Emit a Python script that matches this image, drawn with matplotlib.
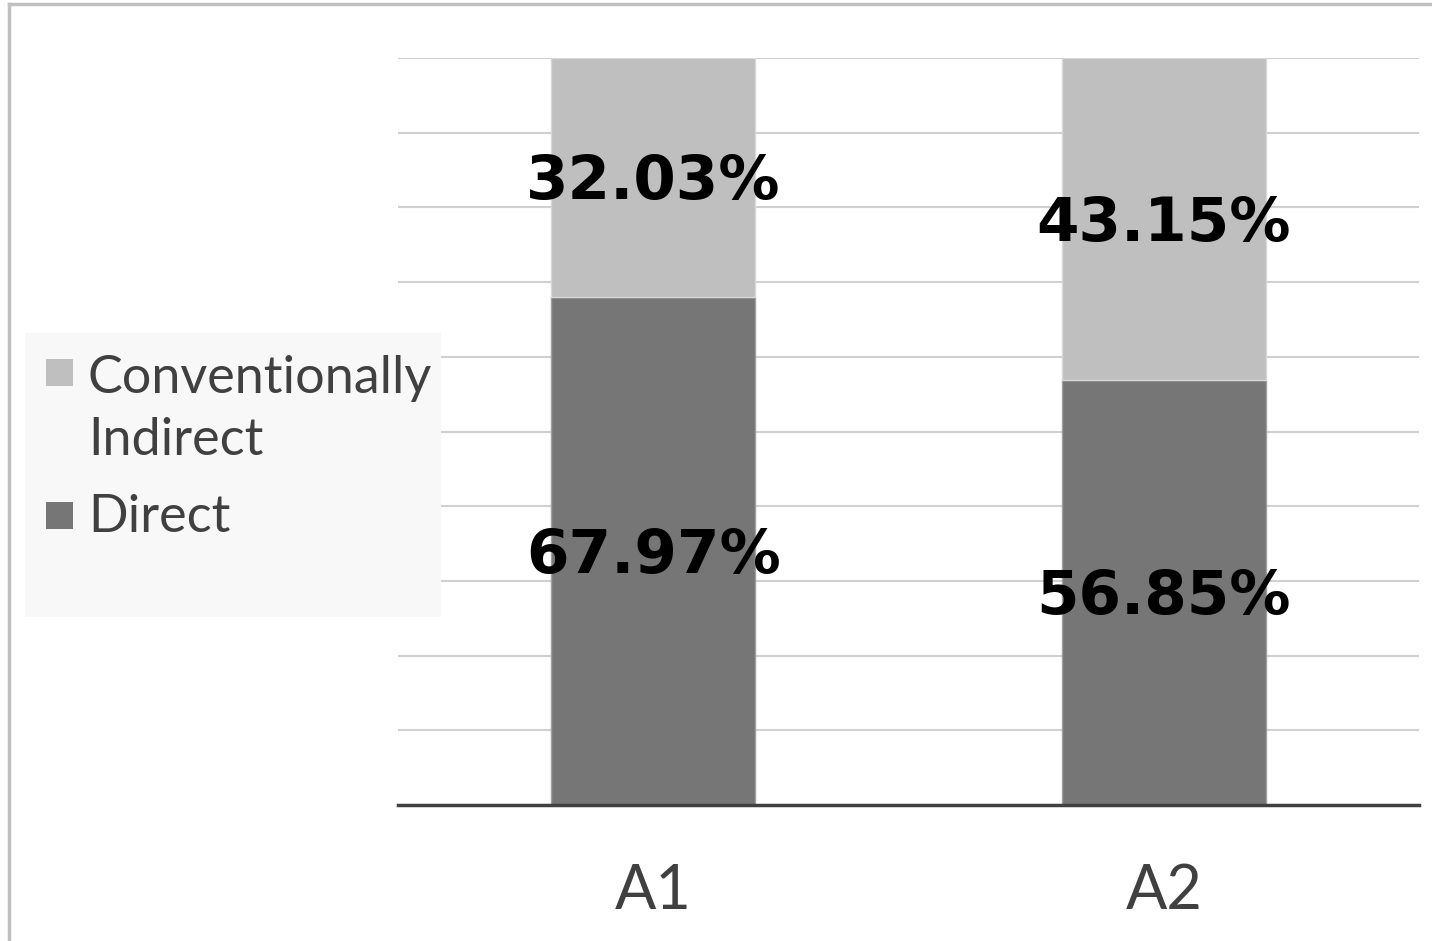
import matplotlib
matplotlib.use("Agg")
import matplotlib.pyplot as plt
from matplotlib.patches import Rectangle
from matplotlib.lines import Line2D
from matplotlib.transforms import offset_copy

categories = ["A1", "A2"]
direct = [67.97, 56.85]
indirect = [32.03, 43.15]
series_names = ["Conventionally", "Indirect", "Direct"]

DARK = "#767676"
LIGHT = "#bfbfbf"
TEXT = "#404040"

plt.rcParams["font.family"] = ["Lato", "DejaVu Sans"]

fig = plt.figure(figsize=(14.32, 9.41), dpi=100)
ax = fig.add_axes([398 / 1432, 1 - 805 / 941, 1021 / 1432, 747 / 941])

x = list(range(len(categories)))
ax.set_xlim(-0.5, len(categories) - 0.5)
ax.set_ylim(0, 100)

for y in range(10, 101, 10):
    ax.axhline(y, color="#d0d0d0", lw=1.5, zorder=0)

ax.bar(x, direct, width=0.4, color=DARK, edgecolor="#a0a0a0", lw=1, zorder=2)
ax.bar(x, indirect, width=0.4, bottom=direct, color=LIGHT,
       edgecolor="#d8d8d8", lw=1, zorder=2)

lbl_tr = offset_copy(ax.transData, fig=fig, x=0, y=-5, units="dots")
for xi, d, ind in zip(x, direct, indirect):
    ax.text(xi, d / 2, f"{d:.2f}%", ha="center", va="center", transform=lbl_tr,
            fontsize=44, fontweight="bold", color="black", zorder=3,
            family="DejaVu Sans")
    ax.text(xi, d + ind / 2, f"{ind:.2f}%", ha="center", va="center", transform=lbl_tr,
            fontsize=44, fontweight="bold", color="black", zorder=3,
            family="DejaVu Sans")

ax.axhline(0, color=TEXT, lw=2.5, zorder=4, clip_on=False)
for s in ax.spines.values():
    s.set_visible(False)
ax.set_yticks([])
ax.set_xticks(x)
ax.set_xticklabels(categories, fontsize=44, color=TEXT)
ax.tick_params(axis="x", length=0, pad=42)

# legend panel
W, H = 1432, 941


def fx(px):
    return px / W


def fy(py):
    return 1 - py / H


fig.patches.append(Rectangle((fx(25), fy(617)), fx(441) - fx(25), fy(333) - fy(617),
                             transform=fig.transFigure, facecolor="#f8f8f8",
                             edgecolor="none", zorder=0))
fig.patches.append(Rectangle((fx(46), fy(386)), fx(27), fy(359) - fy(386),
                             transform=fig.transFigure, facecolor=LIGHT,
                             edgecolor="none", zorder=1))
fig.patches.append(Rectangle((fx(46), fy(529)), fx(27), fy(502) - fy(529),
                             transform=fig.transFigure, facecolor=DARK,
                             edgecolor="none", zorder=1))
for name, base in zip(series_names, [393, 455, 532]):
    fig.text(fx(88), fy(base), name, fontsize=37.5, color=TEXT,
             va="baseline", ha="left")

# outer frame
fig.lines.append(Line2D([fx(9), fx(9)], [fy(4), 0], transform=fig.transFigure,
                        color="#c0c0c0", lw=2.5))
fig.lines.append(Line2D([fx(9), 1], [fy(4), fy(4)], transform=fig.transFigure,
                        color="#c0c0c0", lw=2.5))

fig.savefig("out.png", dpi=100)
